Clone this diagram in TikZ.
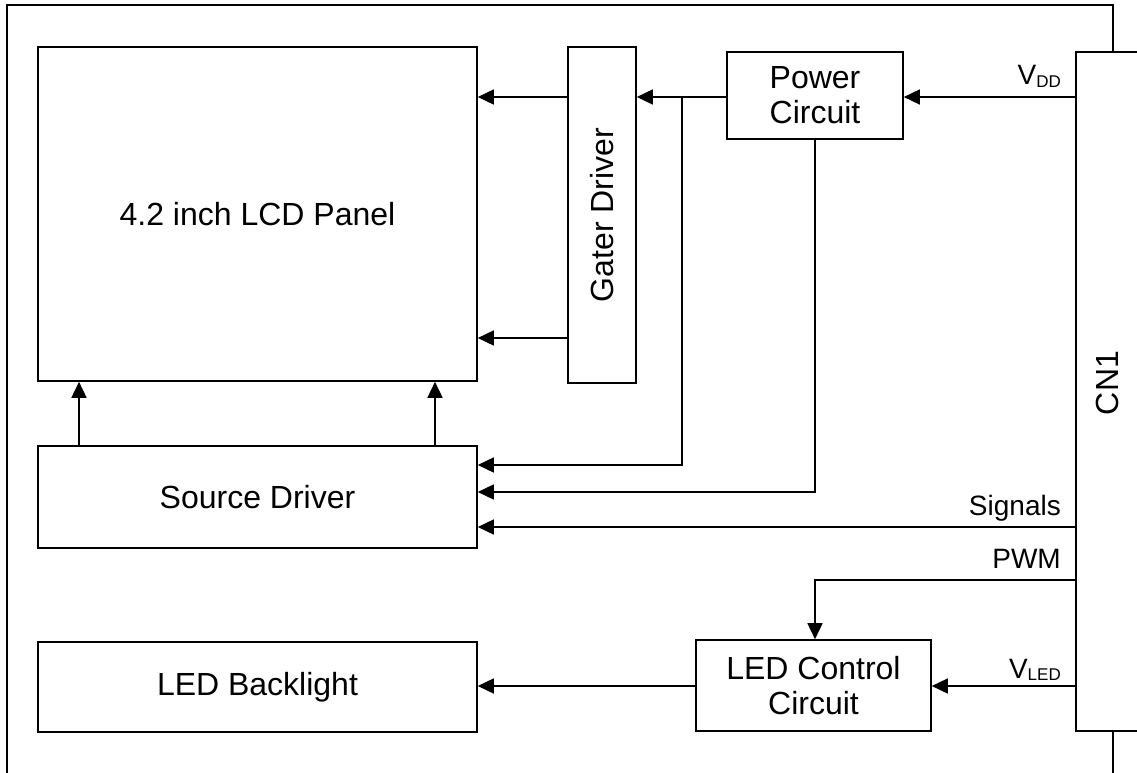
\documentclass[tikz,border=0pt]{standalone}
\usepackage{fontspec}
\setmainfont{Liberation Sans}
\usetikzlibrary{arrows.meta}
\begin{document}
\begin{tikzpicture}[x=1pt,y=-1pt,
  box/.style={draw,line width=1.6pt,rectangle,inner sep=0pt,align=center,font=\fontsize{32}{35}\selectfont},
  conn/.style={line width=1.6pt},
  arr/.style={conn,-{Triangle[length=16pt,width=15pt]}},
  lbl/.style={anchor=base east,inner sep=0pt,font=\fontsize{28}{30}\selectfont}]
\useasboundingbox (0,0) rectangle (1137,773);
% boxes
\node[box,minimum width=439pt,minimum height=334pt] (lcd) at (257.5,214) {4.2 inch LCD Panel};
\node[box,minimum width=68pt,minimum height=336pt] (gater) at (602,215) {};
\node[rotate=90,font=\fontsize{32}{35}\selectfont] (gatertext) at (602,215) {Gater Driver};
\node[box,minimum width=176pt,minimum height=87pt] (power) at (815,95.5) {Power\\Circuit};
\node[box,minimum width=439pt,minimum height=102pt] (source) at (257.5,497) {Source Driver};
\node[box,minimum width=439pt,minimum height=90pt] (backlight) at (257.5,687) {LED Backlight};
\node[box,minimum width=235pt,minimum height=91pt] (ledctrl) at (813.5,685.5) {LED Control\\Circuit};
\node[box,minimum width=74pt,minimum height=679pt] (cn1) at (1113,391.5) {};
\node[rotate=90,font=\fontsize{32}{35}\selectfont] (cn1text) at (1107,383) {CN1};
% outer frame
\draw[conn] (7,773) -- (7,5) -- (1113,5) -- (cn1.north);
\draw[conn] (cn1.south) -- (1113,773);
% coordinates
\coordinate (j1) at (682,97);
\coordinate (p1) at (815,580);
% connectors
\draw[arr] (gater.west |- 0,97) -- (lcd.east |- 0,97);
\draw[arr] (gater.west |- 0,338) -- (lcd.east |- 0,338);
\draw[arr] (power.west |- j1) -- (gater.east |- j1);
\draw[arr] (j1) -- (j1 |- 0,465) -- (source.east |- 0,465);
\draw[arr] (power.south) -- (power.south |- 0,492) -- (source.east |- 0,492);
\draw[arr] (cn1.west |- 0,527) -- (source.east |- 0,527);
\draw[arr] (source.north -| 79,0) -- (lcd.south -| 79,0);
\draw[arr] (source.north -| 435,0) -- (lcd.south -| 435,0);
\draw[arr] (cn1.west |- 0,97) -- (power.east |- 0,97);
\draw[arr] (cn1.west |- p1) -- (p1) -- (p1 |- ledctrl.north);
\draw[arr] (cn1.west |- 0,686) -- (ledctrl.east |- 0,686);
\draw[arr] (ledctrl.west |- 0,686) -- (backlight.east |- 0,686);
% labels
\node[lbl] (lvdd) at (1061,85) {V\raisebox{-2pt}{\fontsize{17}{17}\selectfont DD}};
\node[lbl] (lsig) at (1061,515) {Signals};
\node[lbl] (lpwm) at (1061,568) {PWM};
\node[lbl] (lvled) at (1061,678) {V\raisebox{-2pt}{\fontsize{17}{17}\selectfont LED}};
\end{tikzpicture}
\end{document}
